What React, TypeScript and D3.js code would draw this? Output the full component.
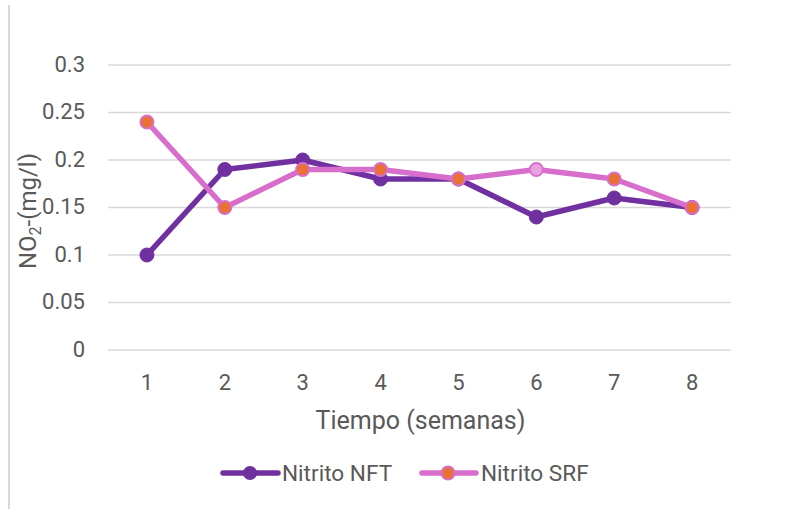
import React from "react";
import * as d3 from "d3";

const weeks = ["1", "2", "3", "4", "5", "6", "7", "8"];
const nft = [0.1, 0.19, 0.2, 0.18, 0.18, 0.14, 0.16, 0.15];
const srf = [0.24, 0.15, 0.19, 0.19, 0.18, 0.19, 0.18, 0.15];
const yTicks = [0, 0.05, 0.1, 0.15, 0.2, 0.25, 0.3];

const W = 788, H = 509;
const left = 108, right = 731, top = 65, bottom = 350;
const NFT_C = "#7030A0";
const SRF_C = "#D86ECC";
const SRF_FILL = "#E97132";
const TXT = "#595959";
const FONT = "Roboto, 'Noto Sans', sans-serif";

export default function App() {
  const x = d3.scaleBand().domain(weeks).range([left, right]);
  const y = d3.scaleLinear().domain([0, 0.3]).range([bottom, top]);
  const cx = (i: number) => (x(weeks[i]) as number) + x.bandwidth() / 2;
  const line = d3.line<number>().x((_, i) => cx(i)).y((d) => y(d));
  return (
    <svg width={W} height={H} style={{ position: "absolute", left: 0, top: 0 }}>
      <rect x={0} y={0} width={W} height={H} fill="#fff" />
      <line x1={9} x2={9} y1={5} y2={H} stroke="#d9d9d9" strokeWidth={2} />
      {yTicks.map((t) => (
        <g key={t}>
          <line x1={left} x2={right} y1={y(t)} y2={y(t)} stroke="#d9d9d9" strokeWidth={1.5} />
          <text x={85} y={y(t) - 1} dy="0.35em" textAnchor="end" fontSize={22} fill={TXT} fontFamily={FONT}>
            {t}
          </text>
        </g>
      ))}
      {weeks.map((w, i) => (
        <text key={w} x={cx(i)} y={382} dy="0.35em" textAnchor="middle" fontSize={22} fill={TXT} fontFamily={FONT}>
          {w}
        </text>
      ))}
      <text x={(left + right) / 2 + 1} y={420} dy="0.35em" textAnchor="middle" fontSize={25} fill={TXT} fontFamily={FONT}>
        Tiempo (semanas)
      </text>
      <text transform={`translate(36,211) rotate(-90)`} textAnchor="middle" fontSize={24} fill={TXT} fontFamily={FONT}>
        NO<tspan fontSize={16} dy="5">2</tspan><tspan dy="-5">-(mg/l)</tspan>
      </text>
      <path d={line(nft) as string} fill="none" stroke={NFT_C} strokeWidth={5.5} strokeLinejoin="round" />
      {nft.map((v, i) => (
        <circle key={i} cx={cx(i)} cy={y(v)} r={7} fill={NFT_C} stroke={NFT_C} strokeWidth={1} />
      ))}
      <path d={line(srf) as string} fill="none" stroke={SRF_C} strokeWidth={5.5} strokeLinejoin="round" />
      {srf.map((v, i) => (
        <circle key={i} cx={cx(i)} cy={y(v)} r={6.5} fill={i === 5 ? "#E8A2E0" : SRF_FILL} stroke={SRF_C} strokeWidth={2} />
      ))}
      <g>
        <line x1={223} x2={278} y1={473} y2={473} stroke={NFT_C} strokeWidth={5.5} strokeLinecap="round" />
        <circle cx={250} cy={473} r={7} fill={NFT_C} />
        <text x={282} y={473} dy="0.35em" fontSize={22.6} fill={TXT} fontFamily={FONT}>Nitrito NFT</text>
        <line x1={422} x2={476} y1={473} y2={473} stroke={SRF_C} strokeWidth={5.5} strokeLinecap="round" />
        <circle cx={448} cy={473} r={6.5} fill={SRF_FILL} stroke={SRF_C} strokeWidth={2} />
        <text x={481} y={473} dy="0.35em" fontSize={22.6} fill={TXT} fontFamily={FONT}>Nitrito SRF</text>
      </g>
    </svg>
  );
}
